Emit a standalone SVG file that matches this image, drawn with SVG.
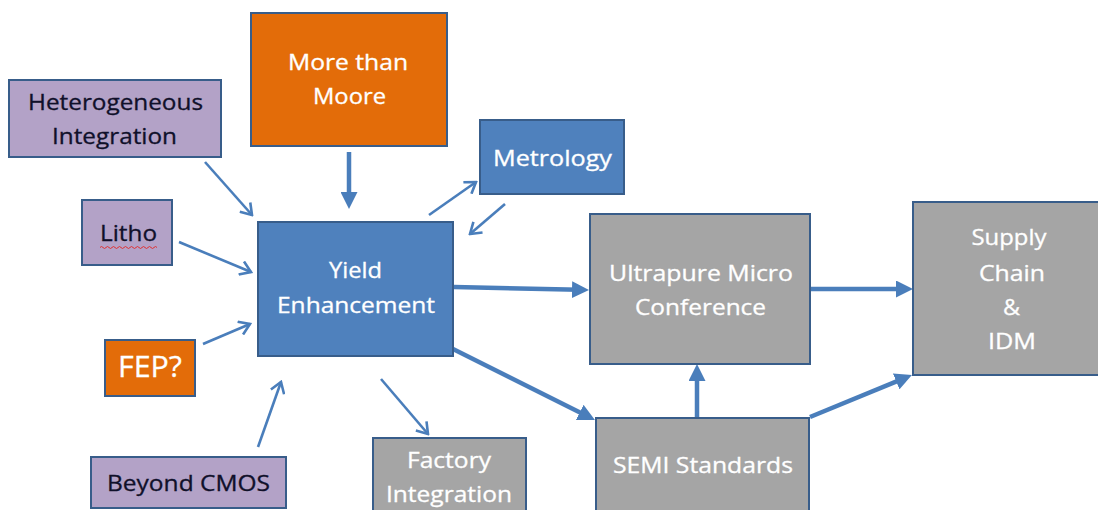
<svg xmlns="http://www.w3.org/2000/svg" width="1098" height="510" viewBox="0 0 1098 510">
<defs>
<style>
.box{stroke:#385D8A;stroke-width:2}
.blue{fill:#4F81BD}
.orange{fill:#E36C09}
.purple{fill:#B3A2C7}
.grey{fill:#A5A5A5}
text{font-family:"Open Sans","Liberation Sans",sans-serif;font-size:21px;text-anchor:middle}
.w{fill:#FFFFFF;stroke:#FFFFFF;stroke-width:0.3}
.d{fill:#10102A;stroke:#10102A;stroke-width:0.3}
.thin{stroke:#4A7EBB;stroke-width:2.6;fill:none;marker-end:url(#open)}
.thick{stroke:#4A7EBB;stroke-width:4.5;fill:none;marker-end:url(#solid)}
</style>
<marker id="open" viewBox="0 0 14 16" refX="12" refY="8" markerWidth="14" markerHeight="16" markerUnits="userSpaceOnUse" orient="auto">
<path d="M1.5,1 L12,8 L1.5,15" fill="none" stroke="#4A7EBB" stroke-width="2.6"/>
</marker>
<marker id="solid" viewBox="0 0 17 17" refX="7" refY="8.5" markerWidth="17" markerHeight="17" markerUnits="userSpaceOnUse" orient="auto">
<path d="M0,0 L17,8.5 L0,17 z" fill="#4A7EBB"/>
</marker>
</defs>
<rect width="1098" height="510" fill="#FFFFFF"/>

<g id="connectors">
<line class="thin" x1="205" y1="162" x2="252" y2="215"/>
<line class="thin" x1="179" y1="242" x2="251" y2="272"/>
<line class="thin" x1="203" y1="344" x2="250" y2="324"/>
<line class="thin" x1="258" y1="447" x2="281" y2="382"/>
<line class="thin" x1="381" y1="379" x2="428" y2="434"/>
<line class="thin" x1="429" y1="215" x2="476" y2="182"/>
<line class="thin" x1="505" y1="204" x2="470" y2="234"/>
<line class="thick" x1="349" y1="152" x2="349" y2="199"/>
<line class="thick" x1="454" y1="287" x2="579" y2="289.8"/>
<line class="thick" x1="453" y1="349" x2="586" y2="415.5"/>
<line class="thick" x1="697" y1="418" x2="697" y2="374"/>
<line class="thick" x1="810" y1="289" x2="903" y2="289"/>
<line class="thick" x1="810" y1="417" x2="902.7" y2="378.8"/>
</g>

<g id="more-than-moore">
<rect class="box orange" x="251" y="13" width="196" height="133"/>
<text class="w" x="348" y="70" textLength="120" lengthAdjust="spacingAndGlyphs">More than</text>
<text class="w" x="349.5" y="104" textLength="73" lengthAdjust="spacingAndGlyphs">Moore</text>
</g>

<g id="heterogeneous-integration">
<rect class="box purple" x="9" y="80" width="212" height="77"/>
<text class="d" x="115.5" y="110" textLength="175" lengthAdjust="spacingAndGlyphs">Heterogeneous</text>
<text class="d" x="114.5" y="144" textLength="125" lengthAdjust="spacingAndGlyphs">Integration</text>
</g>

<g id="metrology">
<rect class="box blue" x="480" y="120" width="144" height="74"/>
<text class="w" x="552.5" y="166" textLength="119" lengthAdjust="spacingAndGlyphs">Metrology</text>
</g>

<g id="litho">
<rect class="box purple" x="82" y="200" width="90" height="65"/>
<text class="d" x="128.5" y="241" textLength="57" lengthAdjust="spacingAndGlyphs">Litho</text>
<path d="M100,247.5 q1.5,-2 3,0 t3,0 t3,0 t3,0 t3,0 t3,0 t3,0 t3,0 t3,0 t3,0 t3,0 t3,0 t3,0 t3,0 t3,0 t3,0 t3,0 t3,0 t3,0" fill="none" stroke="#E03030" stroke-width="1"/>
</g>

<g id="yield-enhancement">
<rect class="box blue" x="258" y="222" width="195" height="134"/>
<text class="w" x="355.5" y="278" textLength="53" lengthAdjust="spacingAndGlyphs">Yield</text>
<text class="w" x="356" y="313" textLength="158" lengthAdjust="spacingAndGlyphs">Enhancement</text>
</g>

<g id="fep">
<rect class="box orange" x="105" y="340" width="90" height="56"/>
<text class="w" x="150" y="377" textLength="64" lengthAdjust="spacingAndGlyphs" style="font-size:30px">FEP?</text>
</g>

<g id="beyond-cmos">
<rect class="box purple" x="91" y="457" width="195" height="51"/>
<text class="d" x="188.5" y="491" textLength="163" lengthAdjust="spacingAndGlyphs">Beyond CMOS</text>
</g>

<g id="factory-integration">
<rect class="box grey" x="373" y="438" width="153" height="80"/>
<text class="w" x="449" y="468" textLength="84" lengthAdjust="spacingAndGlyphs">Factory</text>
<text class="w" x="449" y="502" textLength="126" lengthAdjust="spacingAndGlyphs">Integration</text>
</g>

<g id="ultrapure-micro-conference">
<rect class="box grey" x="590" y="214" width="220" height="150"/>
<text class="w" x="701" y="281" textLength="184" lengthAdjust="spacingAndGlyphs">Ultrapure Micro</text>
<text class="w" x="700.5" y="315" textLength="131" lengthAdjust="spacingAndGlyphs">Conference</text>
</g>

<g id="semi-standards">
<rect class="box grey" x="596" y="418" width="213" height="100"/>
<text class="w" x="703" y="473" textLength="180" lengthAdjust="spacingAndGlyphs">SEMI Standards</text>
</g>

<g id="supply-chain-idm">
<rect class="box grey" x="913" y="202" width="192" height="173"/>
<text class="w" x="1009" y="245" textLength="75" lengthAdjust="spacingAndGlyphs">Supply</text>
<text class="w" x="1012" y="281" textLength="66" lengthAdjust="spacingAndGlyphs">Chain</text>
<text class="w" x="1011.5" y="315" textLength="17" lengthAdjust="spacingAndGlyphs">&amp;</text>
<text class="w" x="1012" y="349" textLength="48" lengthAdjust="spacingAndGlyphs">IDM</text>
</g>
</svg>
